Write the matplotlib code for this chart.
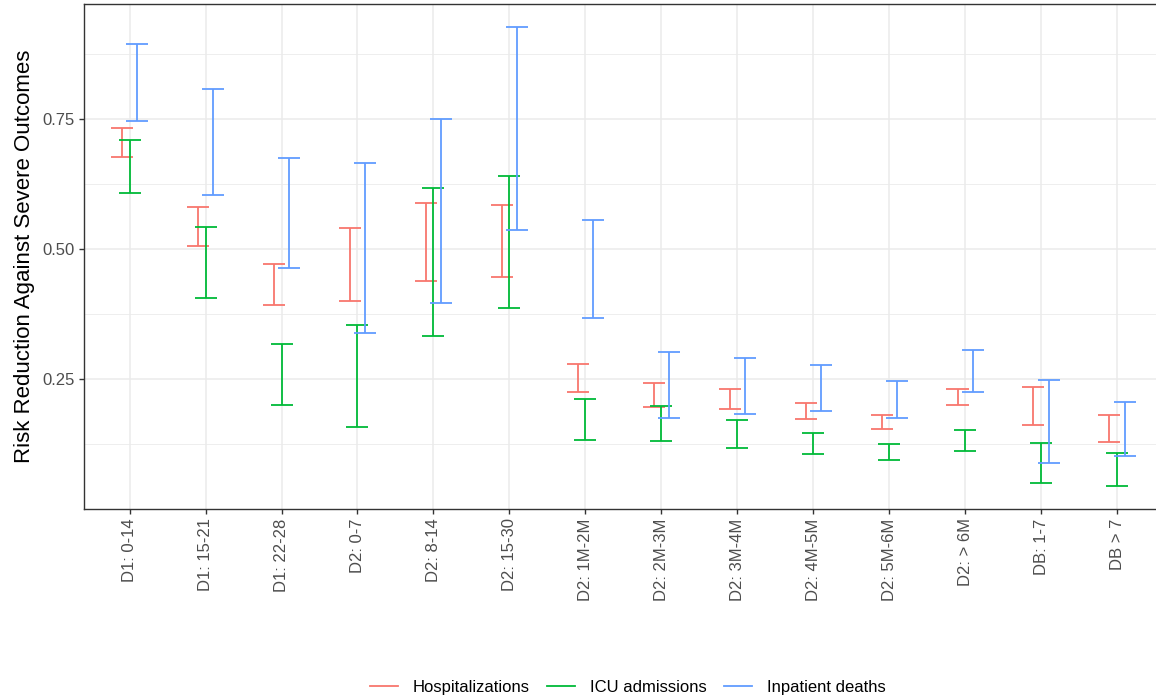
import matplotlib
matplotlib.use("Agg")
import matplotlib.pyplot as plt
import numpy as np

plt.rcParams['font.family'] = ['Liberation Sans', 'DejaVu Sans']

groups = ["D1: 0-14", "D1: 15-21", "D1: 22-28", "D2: 0-7", "D2: 8-14", "D2: 15-30",
          "D2: 1M-2M", "D2: 2M-3M", "D2: 3M-4M", "D2: 4M-5M", "D2: 5M-6M", "D2: > 6M",
          "DB: 1-7", "DB > 7"]

hosp_lo = [0.676, 0.506, 0.393, 0.401, 0.439, 0.447, 0.226, 0.197, 0.192, 0.174, 0.155, 0.201, 0.162, 0.130]
hosp_hi = [0.732, 0.581, 0.471, 0.540, 0.589, 0.584, 0.280, 0.242, 0.231, 0.204, 0.181, 0.232, 0.236, 0.182]

icu_lo = [0.607, 0.407, 0.201, 0.159, 0.334, 0.387, 0.134, 0.132, 0.118, 0.107, 0.095, 0.113, 0.050, 0.045]
icu_hi = [0.710, 0.542, 0.318, 0.354, 0.618, 0.640, 0.212, 0.199, 0.171, 0.146, 0.126, 0.152, 0.127, 0.109]

death_lo = [0.745, 0.604, 0.463, 0.339, 0.396, 0.537, 0.367, 0.176, 0.184, 0.190, 0.175, 0.226, 0.090, 0.102]
death_hi = [0.893, 0.807, 0.674, 0.665, 0.749, 0.926, 0.556, 0.303, 0.291, 0.278, 0.246, 0.306, 0.249, 0.206]

series = [("Hospitalizations", hosp_lo, hosp_hi, "#F8766D"),
          ("ICU admissions", icu_lo, icu_hi, "#00BA38"),
          ("Inpatient deaths", death_lo, death_hi, "#619CFF")]

fig = plt.figure(figsize=(11.56, 7), dpi=100)
ax = fig.add_axes([0.0727, 0.2729, 0.933, 0.721])

x = np.arange(1, len(groups) + 1)
dodge = 0.1
half_cap = 0.145
lw = 1.3

handles = []
for k, (name, lo, hi, col) in enumerate(series):
    xs = x + (k - 1) * dodge
    ax.vlines(xs, lo, hi, color=col, lw=lw, zorder=3)
    ax.hlines(lo, xs - half_cap, xs + half_cap, color=col, lw=lw, zorder=3)
    ax.hlines(hi, xs - half_cap, xs + half_cap, color=col, lw=lw, zorder=3)
    handles.append(plt.Line2D([], [], color=col, lw=lw, label=name))

# ggplot style expansion
all_vals = np.concatenate([hosp_lo, hosp_hi, icu_lo, icu_hi, death_lo, death_hi])
rng = all_vals.max() - all_vals.min()
ax.set_ylim(all_vals.min() - 0.05 * rng, all_vals.max() + 0.05 * rng)
ax.set_xlim(0.4, len(groups) + 0.6)

ax.set_yticks([0.25, 0.50, 0.75])
ax.set_yticklabels(["0.25", "0.50", "0.75"])
ax.set_yticks([0.125, 0.375, 0.625, 0.875], minor=True)
ax.set_xticks(x)
ax.set_xticklabels(groups, rotation=90, va="top", ha="center")

ax.grid(which="major", color="#EBEBEB", lw=1.1, zorder=0)
ax.grid(which="minor", axis="y", color="#EBEBEB", lw=0.6, zorder=0)
ax.set_axisbelow(True)
for s in ax.spines.values():
    s.set_color("#333333")
    s.set_linewidth(1.0)

ax.tick_params(which="major", length=3.8, width=1.0, color="#333333",
               labelcolor="#4D4D4D", labelsize=12, pad=3)
ax.tick_params(which="minor", length=0)

ax.set_ylabel("Risk Reduction Against Severe Outcomes", fontsize=16, color="black", labelpad=5)

fig.legend(handles=handles, loc="center", bbox_to_anchor=(0.543, 0.018), ncol=3,
           frameon=False, fontsize=12, handlelength=1.7, handletextpad=0.9,
           columnspacing=1.0)

fig.savefig("out.png", dpi=100)
